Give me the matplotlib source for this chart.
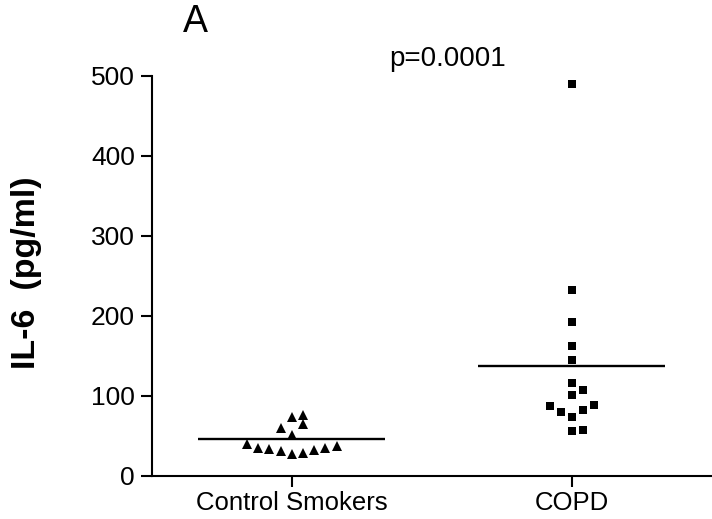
import matplotlib
matplotlib.use("Agg")
import matplotlib.pyplot as plt
import numpy as np

plt.rcParams['font.family'] = ['Liberation Sans', 'DejaVu Sans']

categories = ["Control Smokers", "COPD"]
control_values = [74, 76, 65, 59.6, 51, 40, 35.4, 33.3, 31.7, 27, 29, 32.5, 35.4, 37.9]
control_offsets = [0, 1, 1, -1, 0, -4, -3, -2, -1, 0, 1, 2, 3, 4]
copd_values = [490, 232.8, 192.4, 163, 145.5, 116.8, 108, 101, 87.3, 80, 83, 88.5, 74, 56.5, 57.4]
copd_offsets = [0, 0, 0, 0, 0, 0, 1, 0, -2, -1, 1, 2, 0, 0, 1]
group_means = [46.5, 137]
p_text = "p=0.0001"
y_ticks = [0, 100, 200, 300, 400, 500]

fig = plt.figure(figsize=(7.12, 5.19), dpi=100)
ax = fig.add_axes([0.213, 0.0829, 0.787, 0.7707])

step = 0.04
ax.plot(np.array(control_offsets) * step + 0, control_values, linestyle='none',
        marker='^', markersize=7, color='black', markeredgewidth=0)
ax.plot(np.array(copd_offsets) * step + 1, copd_values, linestyle='none',
        marker='s', markersize=5.3, color='black', markeredgewidth=0)

for i, m in enumerate(group_means):
    ax.plot([i - 0.334, i + 0.334], [m, m], color='black', linewidth=1.7,
            solid_capstyle='butt')

ax.set_xlim(-0.5, 1.5)
ax.set_ylim(0, 500)
ax.set_xticks([0, 1])
ax.set_xticklabels(categories, fontsize=18.5)
ax.set_yticks(y_ticks)
ax.set_yticklabels([str(t) for t in y_ticks], fontsize=19)
ax.spines['top'].set_visible(False)
ax.spines['right'].set_visible(False)
ax.spines['left'].set_linewidth(1.5)
ax.spines['bottom'].set_linewidth(1.5)
ax.tick_params(axis='both', length=8, width=1.5, color='black')
ax.tick_params(axis='y', pad=4)
ax.tick_params(axis='x', pad=3)

fig.text(27 / 712, 1 - 273 / 519, "IL-6  (pg/ml)", rotation=90, fontsize=24.5,
         fontweight='bold', ha='center', va='center')
fig.text(195 / 712, 1 - 22 / 519, "A", fontsize=27, ha='center', va='center')
ax.text(0.555, 513, p_text, fontsize=20, ha='center', va='baseline')

fig.savefig("out.png", dpi=100)
